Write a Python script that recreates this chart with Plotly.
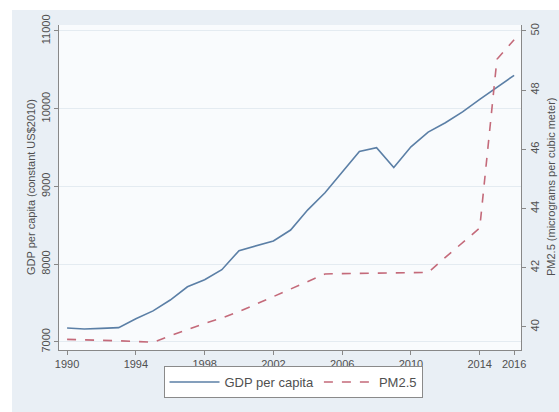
import plotly.graph_objects as go

years = list(range(1990, 2017))
gdp = [7180, 7167, 7175, 7185, 7300, 7400, 7540, 7710, 7800, 7930,
       8175, 8235, 8300, 8440, 8700, 8920, 9190, 9450, 9500, 9245,
       9510, 9700, 9820, 9960, 10120, 10280, 10430]
pm25 = [39.58, 39.57, 39.55, 39.53, 39.51, 39.48, 39.70, 39.92, 40.12, 40.30,
        40.52, 40.77, 41.02, 41.28, 41.53, 41.79, 41.80, 41.81, 41.82, 41.83,
        41.84, 41.84, 42.35, 42.85, 43.34, 49.04, 49.70]
x_ticks = [1990, 1994, 1998, 2002, 2006, 2010, 2014, 2016]
left_ticks = [7000, 8000, 9000, 10000, 11000]
left_labels = ["7000", "8000", "9000", "10000", "11000"]
right_ticks = [40, 42, 44, 46, 48, 50]
left_title = "GDP per capita (constant US$2010)"
right_title = "PM2.5 (micrograms per cubic meter)"

W, H = 559, 412
ml, mr, mt, mb = 59, 38, 25, 62
pw, ph = W - ml - mr, H - mt - mb

def px(x):
    return (x - ml) / pw

def py(y):
    return (H - mb - y) / ph

grey = "#505050"
font = dict(family="Liberation Sans, Arial, sans-serif", size=11, color=grey)

fig = go.Figure()
fig.add_trace(go.Scatter(x=years, y=gdp, mode="lines", name="GDP per capita",
                         line=dict(color="#5b7fa6", width=1.6), yaxis="y"))
fig.add_trace(go.Scatter(x=years, y=pm25, mode="lines", name="PM2.5",
                         line=dict(color="#c46a7a", width=1.6, dash="dash"), yaxis="y2"))

fig.update_layout(
    width=W, height=H,
    margin=dict(l=ml, r=mr, t=mt, b=mb),
    paper_bgcolor="#e9eff5",
    plot_bgcolor="#f9fbfd",
    font=font,
    showlegend=True,
    legend=dict(orientation="h", x=px(293), xanchor="center", y=py(366), yanchor="top",
                bgcolor="#ffffff", bordercolor="#8a8a8a", borderwidth=1, itemwidth=50,
                font=dict(family="Liberation Sans, Arial, sans-serif", size=13, color=grey)),
    xaxis=dict(range=[1989.53, 2016.4], tickvals=x_ticks, ticks="outside", ticklen=4,
               tickcolor="#888", showline=True, linecolor="#888", linewidth=1,
               showgrid=False, zeroline=False, tickfont=font),
    yaxis=dict(range=[6897, 11077], tickvals=left_ticks, ticktext=left_labels,
               tickangle=-90, ticks="outside",
               ticklen=4, tickcolor="#888", showline=True, linecolor="#888", linewidth=1,
               showgrid=True, gridcolor="#e4ebf1", gridwidth=1, zeroline=False,
               tickfont=font),
    yaxis2=dict(range=[39.22, 50.2], tickvals=right_ticks, tickangle=-90, ticks="outside",
                ticklen=4, tickcolor="#888", showline=True, linecolor="#888", linewidth=1,
                showgrid=False, zeroline=False, overlaying="y", side="right",
                tickfont=font),
)

fig.add_annotation(text=left_title, xref="paper", yref="paper", x=px(31), y=py(187),
                   textangle=-90, showarrow=False, xanchor="center", yanchor="middle",
                   font=font)
fig.add_annotation(text=right_title, xref="paper", yref="paper", x=px(551), y=py(187),
                   textangle=-90, showarrow=False, xanchor="center", yanchor="middle",
                   font=font)

# white strips at left and top edges of the image
fig.add_shape(type="rect", xref="paper", yref="paper", layer="below",
              x0=px(0), x1=px(12), y0=py(H), y1=py(0), line_width=0, fillcolor="#ffffff")
fig.add_shape(type="rect", xref="paper", yref="paper", layer="below",
              x0=px(0), x1=px(W), y0=py(10), y1=py(0), line_width=0, fillcolor="#ffffff")

fig.write_html("out.html", config={"displayModeBar": False},
               post_script="document.body.style.margin='0';document.body.style.overflow='hidden';")
